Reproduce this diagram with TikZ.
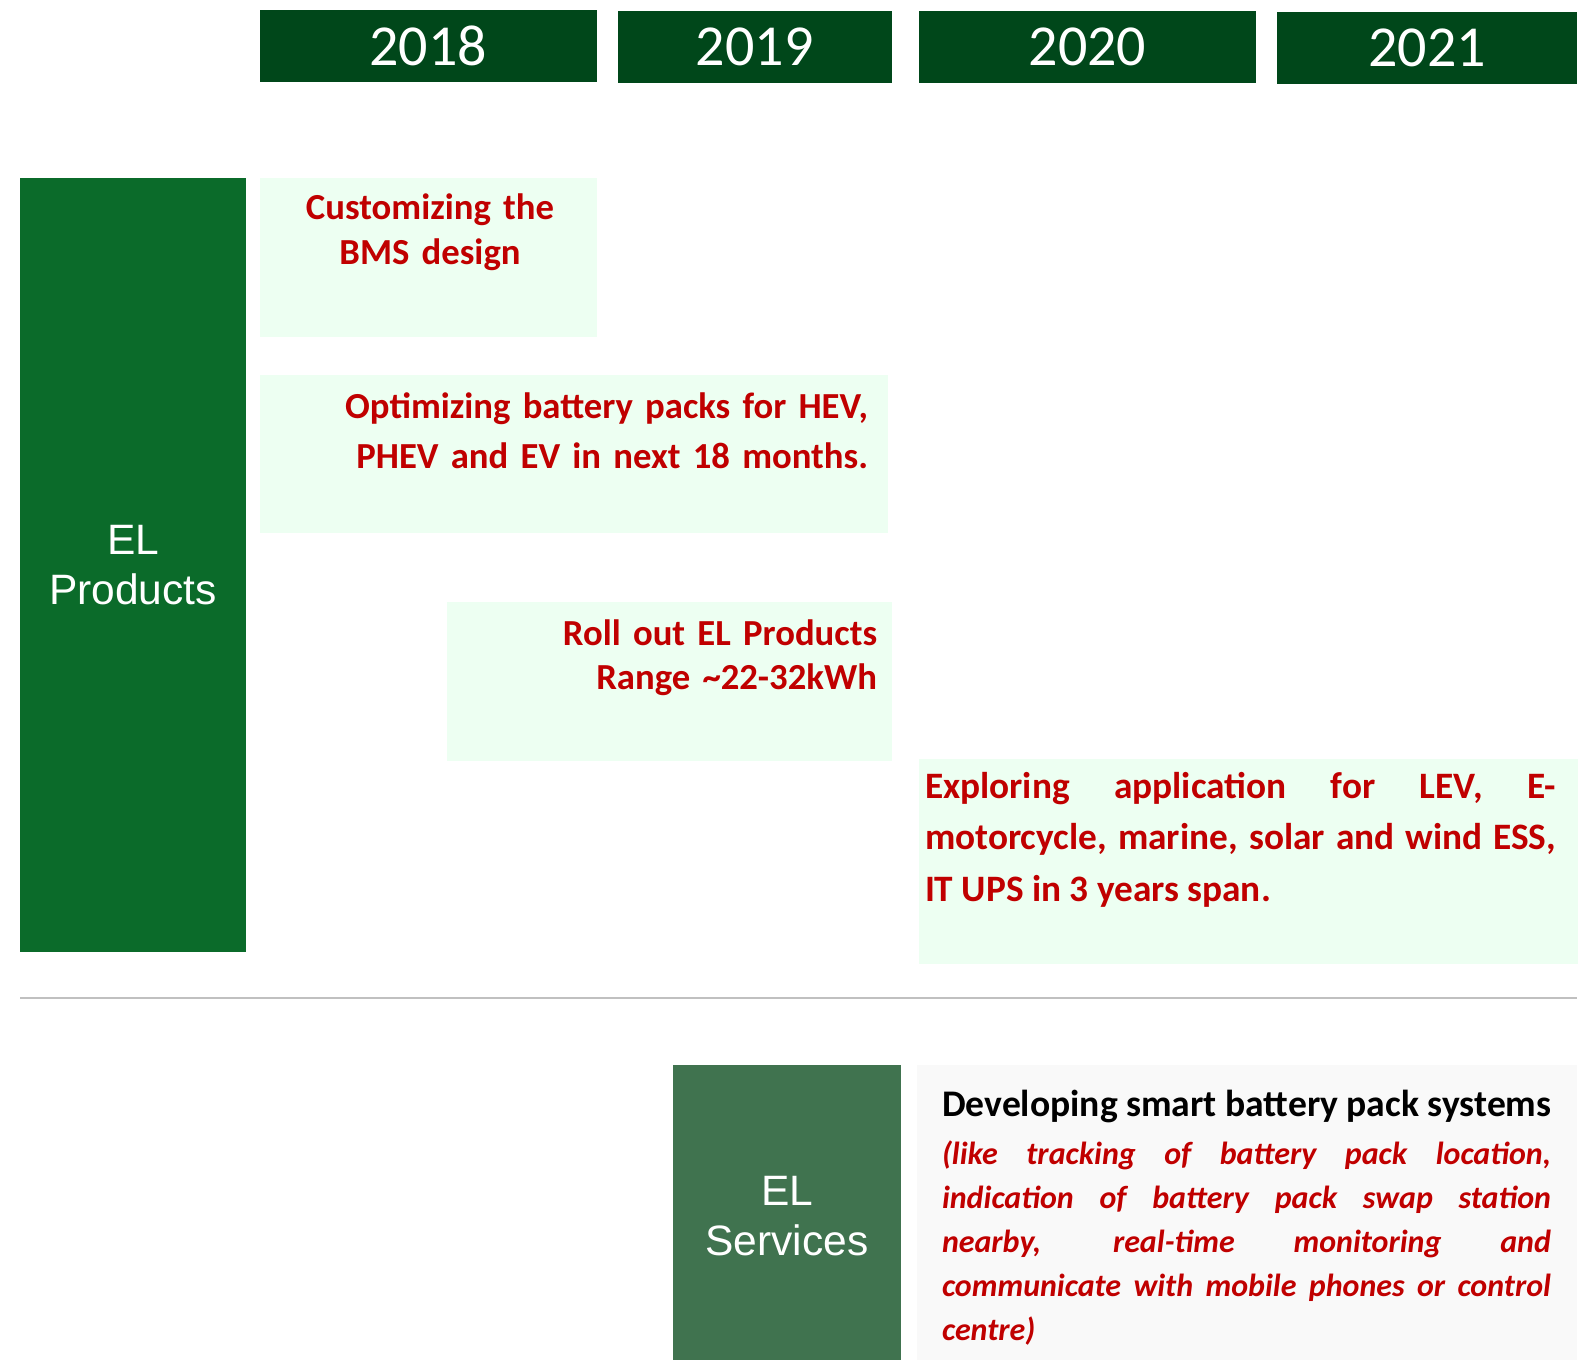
\documentclass[tikz,border=0pt]{standalone}
\usepackage{fontspec}
\setmainfont{Carlito}
\newfontfamily\arialf{Liberation Sans}
\definecolor{yeargreen}{RGB}{0,71,26}
\definecolor{prodgreen}{RGB}{11,107,42}
\definecolor{servgreen}{RGB}{64,115,79}
\definecolor{lightbox}{RGB}{237,255,242}
\definecolor{redtext}{RGB}{192,0,0}
\definecolor{greybox}{RGB}{249,249,249}
\definecolor{rulegrey}{RGB}{192,192,192}
\begin{document}
\begin{tikzpicture}[x=1pt,y=-1pt,
  box/.style={inner sep=0pt, outer sep=0pt, anchor=north west, draw=none},
  yearbox/.style={box, fill=yeargreen, text=white, font=\fontsize{58}{60}\selectfont},
  lightrect/.style={box, fill=lightbox},
  sidebox/.style={box, text=white, align=center, font=\arialf\fontsize{42.5}{50.5}\selectfont},
  sidetxt/.style={inner sep=0pt, text=white, align=center, font=\arialf\fontsize{42.5}{50.5}\selectfont},
  redtxt/.style={inner sep=0pt, outer sep=0pt, text=redtext, font=\bfseries\fontsize{36.7}{45.4}\selectfont}
]
\useasboundingbox (0,0) rectangle (1583,1360);
% year headers
\node[yearbox, minimum width=337pt, minimum height=72pt] (y18) at (259.5,10) {2018};
\node[yearbox, minimum width=273.5pt, minimum height=72pt] (y19) at (618,11) {2019};
\node[yearbox, minimum width=337pt, minimum height=72pt] (y20) at (919,11) {2020};
\node[yearbox, minimum width=300pt, minimum height=72pt] (y21) at (1277,12) {2021};
% EL Products
\node[sidebox, fill=prodgreen, minimum width=226pt, minimum height=774pt] (prod) at (20,178) {EL\\Products};
% light boxes
\node[lightrect, minimum width=337.5pt, minimum height=159pt] (b1) at (259.5,178) {};
\node[lightrect, minimum width=628pt, minimum height=158pt] (b2) at (259.5,375) {};
\node[lightrect, minimum width=444.5pt, minimum height=159pt] (b3) at (447,602) {};
\node[lightrect, minimum width=659pt, minimum height=205pt] (b4) at (919,759) {};
% texts
\node[redtxt, text width=337pt, align=center, anchor=base] (t1) at (430,219) {Customizing the\\BMS design};
\node[redtxt, font=\bfseries\fontsize{36.7}{50.5}\selectfont, text width=600pt, align=right, anchor=base east] (t2) at (868,418) {Optimizing battery packs for HEV,\\PHEV and EV in next 18 months.};
\node[redtxt, font=\bfseries\fontsize{36.7}{44.4}\selectfont, text width=420pt, align=right, anchor=base east] (t3) at (877,645) {Roll out EL Products\\Range \textasciitilde22-32kWh};
\node[redtxt, font=\bfseries\fontsize{37.3}{51.5}\selectfont, text width=631pt, align=justify, anchor=base west] (t4) at (925,798) {Exploring application for LEV, E-\linebreak motorcycle, marine, solar and wind ESS,\linebreak IT UPS in 3 years span.};
% separator
\coordinate (r1) at (20,997.5);
\coordinate (r2) at (1577,997.5);
\draw[rulegrey, line width=2pt] (r1) -- (r2);
% EL Services
\node[box, fill=servgreen, minimum width=227.5pt, minimum height=295pt] (serv) at (673,1065) {};
\node[sidetxt] (servt) at (787,1216) {EL\\Services};
\node[box, fill=greybox, minimum width=660pt, minimum height=295pt] (b5) at (917,1065) {};
\node[inner sep=0pt, anchor=base west, font=\bfseries\fontsize{37.6}{40}\selectfont, text=black] (t5) at (942,1116) {Developing smart battery pack systems};
\node[redtxt, font=\bfseries\itshape\fontsize{32}{44}\selectfont, text width=609pt, align=justify, anchor=base west] (t6) at (942,1164) {(like tracking of battery pack location,\linebreak indication of battery pack swap station\linebreak nearby, real-time monitoring and\linebreak communicate with mobile phones or control\linebreak centre)};
\end{tikzpicture}
\end{document}
